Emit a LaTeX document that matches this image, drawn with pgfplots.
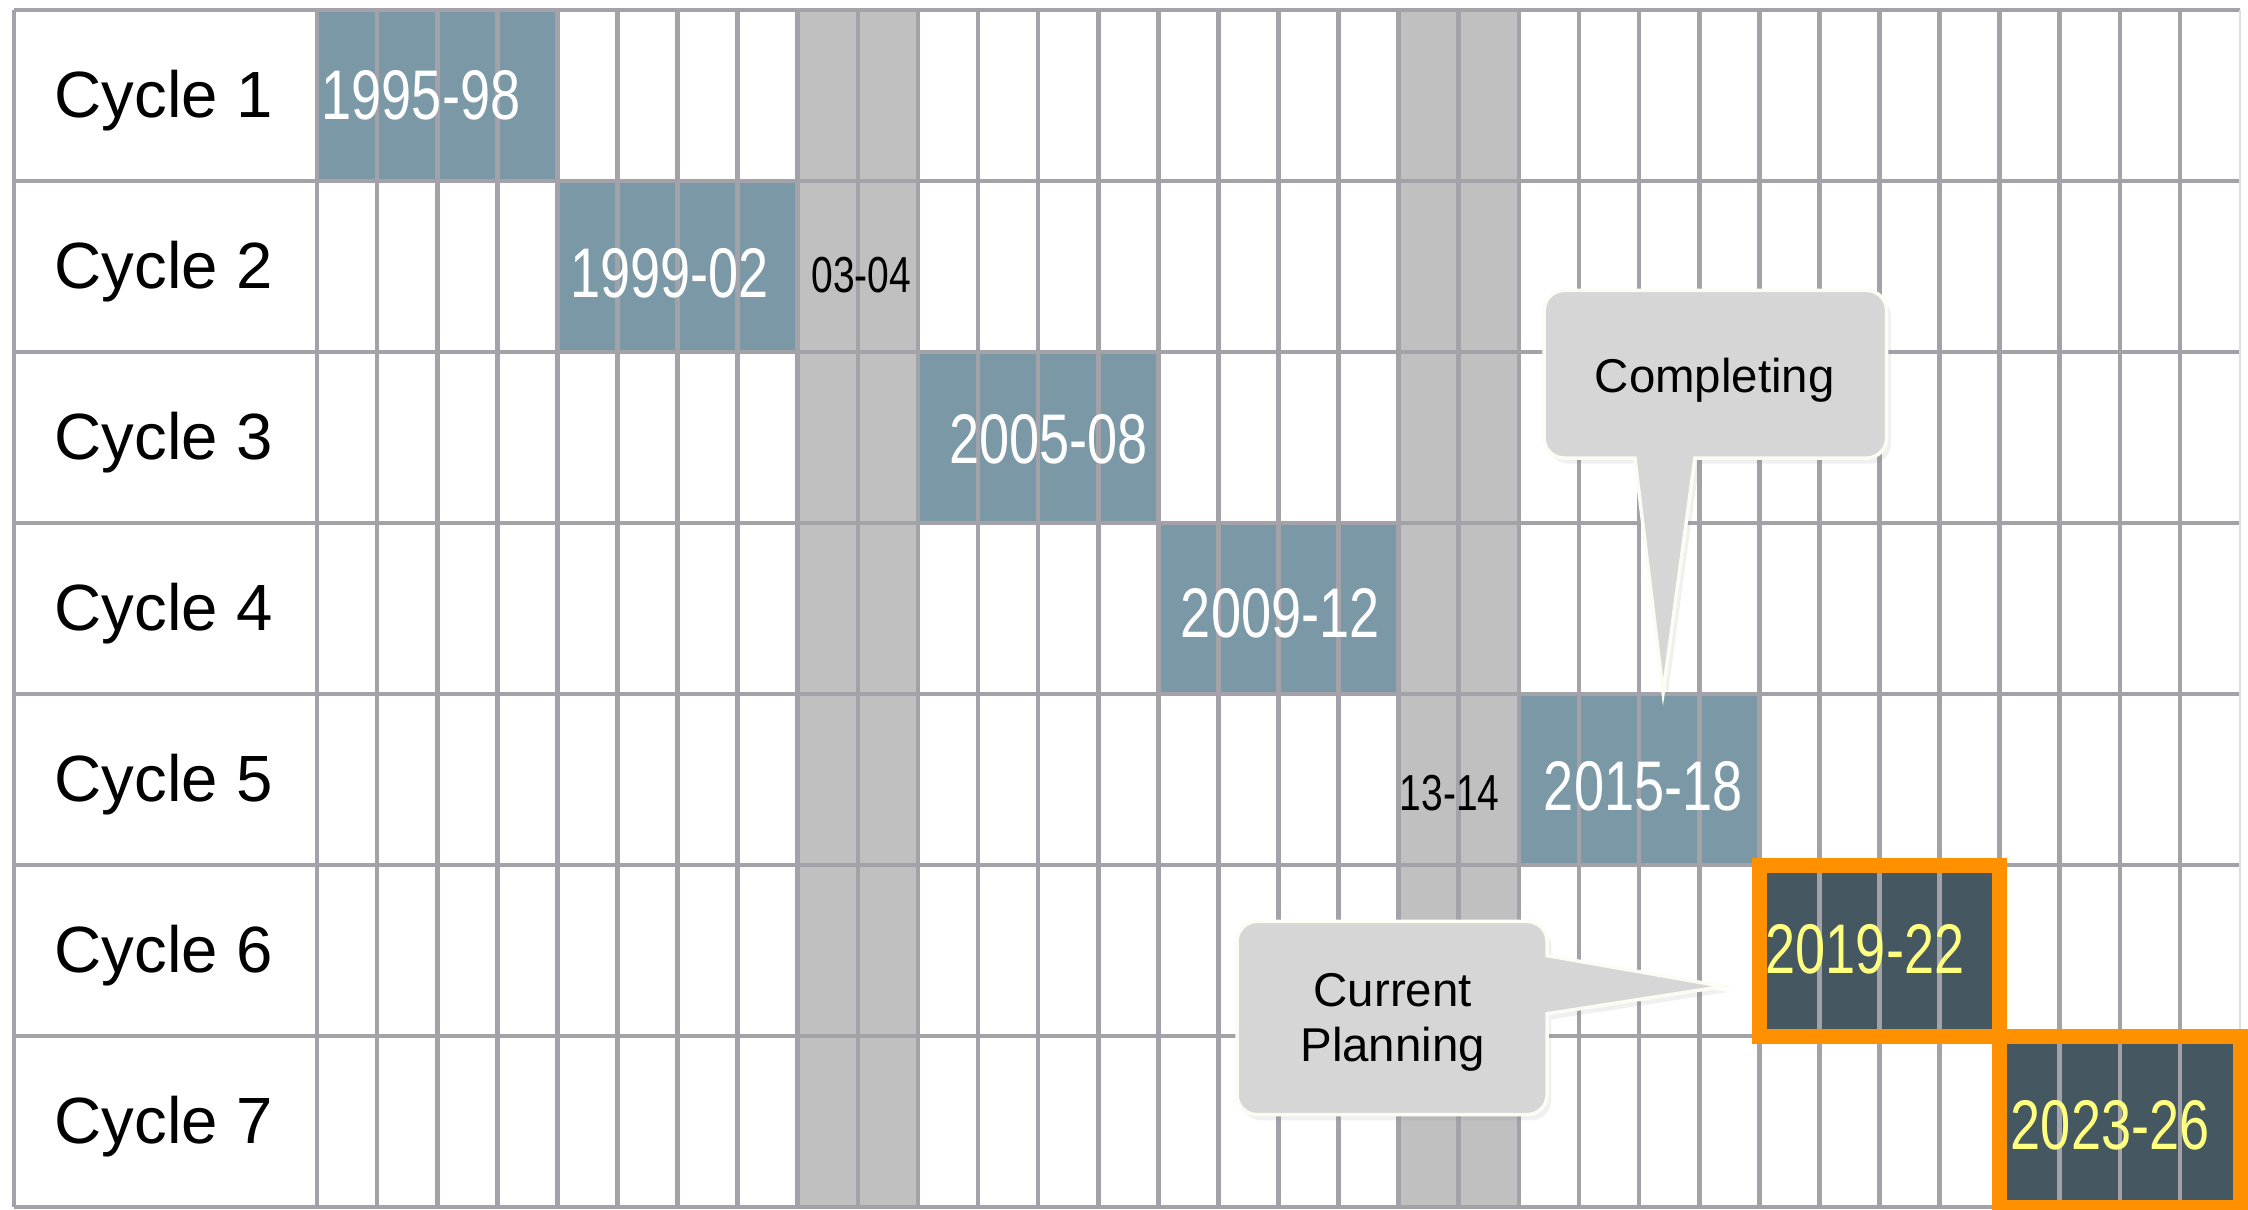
\documentclass[border=0pt]{standalone}
\usepackage{fontspec}
\setmainfont{Liberation Sans}
\newfontfamily\condfont[FakeStretch=0.77]{Liberation Sans}
\usepackage{pgfplots}
\pgfplotsset{compat=1.18}
\usetikzlibrary{shadows}

\definecolor{gridgray}{RGB}{162,162,168}
\definecolor{cyclecol}{RGB}{122,152,166}
\definecolor{shadegray}{RGB}{192,192,192}
\definecolor{darkcyc}{RGB}{69,87,97}
\definecolor{hlorange}{RGB}{255,145,0}
\definecolor{ytext}{RGB}{255,255,128}
\definecolor{callfill}{RGB}{214,214,214}
\definecolor{callborder}{RGB}{252,252,244}

\pgfplotsset{
  ganttframe/.style={
    at={(0,0)}, anchor=south west,
    width=222.6mm, height=119.7mm, scale only axis,
    xmin=1989.958, xmax=2027, ymin=0, ymax=7, y dir=reverse,
  }
}

\begin{document}
\begin{tikzpicture}
\useasboundingbox (-1.4mm,-0.2mm) rectangle (223.4mm,120.7mm);
\clip (-1.4mm,-0.2mm) rectangle (223.4mm,120.7mm);

% ---------- layer 1: cell fills + grid ----------
\begin{axis}[ganttframe,
  xtick={1989.958,1995,1996,...,2026},
  ytick={0,...,7},
  xticklabels={}, yticklabels={},
  major tick length=0pt,
  grid=major,
  grid style={gridgray, line width=1.33pt},
  extra x ticks={2027}, extra x tick labels={},
  extra x tick style={grid style={gridgray!35, line width=0.6pt}},
  axis line style={draw=none},
  axis on top,
]
% shaded gap years 2003-04 and 2013-14
\addplot[fill=shadegray, draw=none] coordinates {(2003,0) (2005,0) (2005,7) (2003,7)};
\addplot[fill=shadegray, draw=none] coordinates {(2013,0) (2015,0) (2015,7) (2013,7)};
% completed cycles
\addplot[fill=cyclecol, draw=none] coordinates {(1995,0) (1999,0) (1999,1) (1995,1)};
\addplot[fill=cyclecol, draw=none] coordinates {(1999,1) (2003,1) (2003,2) (1999,2)};
\addplot[fill=cyclecol, draw=none] coordinates {(2005,2) (2009,2) (2009,3) (2005,3)};
\addplot[fill=cyclecol, draw=none] coordinates {(2009,3) (2013,3) (2013,4) (2009,4)};
\addplot[fill=cyclecol, draw=none] coordinates {(2015,4) (2019,4) (2019,5) (2015,5)};
% current planning cycles
\addplot[fill=darkcyc, draw=none] coordinates {(2019,5) (2023,5) (2023,6) (2019,6)};
\addplot[fill=darkcyc, draw=none] coordinates {(2023,6) (2027,6) (2027,7) (2023,7)};
\end{axis}

% ---------- layer 2: labels, highlights, callouts ----------
\begin{axis}[ganttframe, hide axis, clip=false]
% row labels
\foreach \k in {1,...,7}{
  \edef\tmp{\noexpand\node[anchor=base, font=\noexpand\fontsize{18.6}{20}\noexpand\selectfont]
    at (axis cs:1992.45,\k-0.37) {Cycle \k};}
  \tmp
}
% year labels
\begin{scope}[every node/.style={font=\condfont\fontsize{20}{22}\selectfont}]
\node[white] at (axis cs:1996.73,0.50) {1995-98};
\node[white] at (axis cs:2000.87,1.54) {1999-02};
\node[white] at (axis cs:2007.17,2.51) {2005-08};
\node[white] at (axis cs:2011.03,3.53) {2009-12};
\node[white] at (axis cs:2017.07,4.54) {2015-18};
\node[ytext] at (axis cs:2020.76,5.49) {2019-22};
\node[ytext] at (axis cs:2024.84,6.52) {2023-26};
\end{scope}
\node[black, font=\condfont\fontsize{14.4}{16}\selectfont] at (axis cs:2004.06,1.55) {03-04};
\node[black, font=\condfont\fontsize{14.4}{16}\selectfont] at (axis cs:2013.85,4.58) {13-14};

% orange highlight frames
\addplot[draw=hlorange, line width=1.5mm, line join=miter] coordinates {(2019,5) (2023,5) (2023,6) (2019,6)} -- cycle;
\addplot[draw=hlorange, line width=1.5mm, line join=miter] coordinates {(2023,6) (2027,6) (2027,7) (2023,7)} -- cycle;

% callout: Completing
\draw[callborder, line width=1.0pt, fill=callfill,
      drop shadow={opacity=0.12, shadow xshift=1.2pt, shadow yshift=-1.6pt}]
  (axis cs:2016.93,2.62) -- (axis cs:2017.40,3.99) -- (axis cs:2017.93,2.62)
  [rounded corners=5.7pt] -- (axis cs:2021.12,2.62) -- (axis cs:2021.12,1.64)
  -- (axis cs:2015.42,1.64) -- (axis cs:2015.42,2.62) [sharp corners] -- cycle;
\node[font=\fontsize{13.5}{16}\selectfont] at (axis cs:2018.26,2.165) {Completing};

% callout: Current Planning
\draw[callborder, line width=1.0pt, fill=callfill,
      drop shadow={opacity=0.12, shadow xshift=1.2pt, shadow yshift=-1.6pt}]
  (axis cs:2015.47,5.53) -- (axis cs:2018.40,5.71) -- (axis cs:2015.47,5.87)
  [rounded corners=5.7pt] -- (axis cs:2015.47,6.46) -- (axis cs:2010.31,6.46)
  -- (axis cs:2010.31,5.33) -- (axis cs:2015.47,5.33) [sharp corners] -- cycle;
\node[align=center, font=\fontsize{13.5}{15.9}\selectfont] at (axis cs:2012.90,5.92) {Current\\Planning};
\end{axis}
\end{tikzpicture}
\end{document}
